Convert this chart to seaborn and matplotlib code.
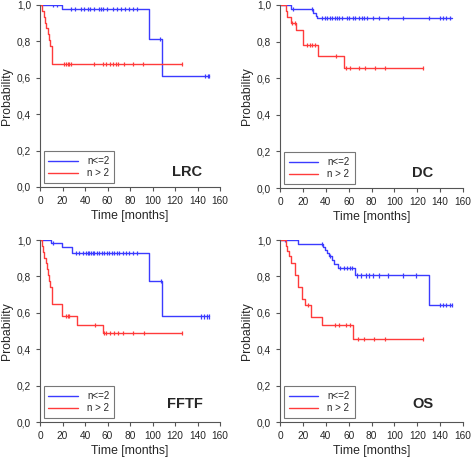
import numpy as np
import pandas as pd
import matplotlib
matplotlib.use("Agg")
import matplotlib.pyplot as plt
import seaborn as sns

sns.set_style("ticks")
plt.rcParams['font.family'] = ['Liberation Sans', 'DejaVu Sans']

groups = ["n<=2", "n > 2"]
colors = {"n<=2": "#3b3bff", "n > 2": "#ff3b3b"}
panels = ["LRC", "DC", "FFTF", "OS"]

# ---- LRC ----
lrc_lo_t = [19.6, 97.2, 108.7]
lrc_lo_s = [0.978, 0.812, 0.609]
lrc_lo_end = 150.5
lrc_lo_c = [11.9, 15.4, 27.6, 31.1, 36.4, 39.4, 42.4, 44.7, 48.3, 52.4, 53.9, 55.7,
            59.3, 64.6, 68.7, 71.7, 75.6, 79.4, 82.4, 85.9, 107.0, 147.0, 149.0, 150.5]
lrc_hi_t = [2.0, 3.5, 4.5, 5.5, 7.0, 8.0, 9.0, 11.0]
lrc_hi_s = [0.968, 0.935, 0.903, 0.871, 0.839, 0.806, 0.774, 0.677]
lrc_hi_end = 126.0
lrc_hi_c = [21.6, 22.8, 24.6, 26.1, 27.6, 48.3, 56.3, 58.7, 62.2, 65.2, 67.3, 69.6,
            74.7, 83.0, 91.9, 126.0]

# ---- DC ----
dc_lo_t = [9.4, 29.0, 31.3, 32.2]
dc_lo_s = [0.978, 0.956, 0.940, 0.927]
dc_lo_end = 150.6
dc_lo_c = [11.4, 27.8, 36.6, 39.5, 41.5, 43.9, 45.9, 48.0, 49.7, 51.8, 54.1, 58.5, 60.0,
           63.5, 65.8, 68.7, 71.7, 73.7, 76.0, 81.6, 86.9, 94.2, 107.3, 130.7, 139.5,
           142.5, 145.4, 148.3]
dc_hi_t = [5.0, 6.4, 9.4, 13.7, 20.2, 33.0, 55.6]
dc_hi_s = [0.968, 0.935, 0.903, 0.861, 0.783, 0.720, 0.656]
dc_hi_end = 125.0
dc_hi_c = [10.8, 13.2, 23.4, 26.0, 28.4, 30.7, 49.0, 57.5, 61.4, 69.3, 74.3, 83.0, 91.8, 125.0]

# ---- FFTF ----
fftf_lo_t = [9.5, 19.3, 28.0, 97.2, 108.7]
fftf_lo_s = [0.982, 0.963, 0.930, 0.776, 0.580]
fftf_lo_end = 150.0
fftf_lo_c = [11.3, 32.0, 35.0, 38.0, 41.0, 42.4, 43.9, 45.3, 46.8, 48.3, 50.4, 52.7, 54.8,
             57.2, 59.3, 61.6, 63.7, 65.8, 68.1, 70.5, 73.5, 76.4, 79.4, 82.4, 85.9,
             107.3, 143.0, 145.8, 148.7, 150.0]
fftf_hi_t = [2.0, 3.0, 3.9, 5.0, 5.9, 7.0, 7.9, 8.9, 10.4, 19.3, 33.2, 56.3]
fftf_hi_s = [0.968, 0.935, 0.903, 0.871, 0.839, 0.806, 0.774, 0.742, 0.646, 0.582, 0.534, 0.488]
fftf_hi_end = 126.0
fftf_hi_c = [23.0, 24.6, 26.0, 48.9, 57.2, 58.7, 62.2, 66.0, 69.0, 74.0, 83.0, 92.4, 126.0]

# ---- OS ----
os_lo_t = [15.8, 37.7, 39.5, 41.5, 43.0, 45.3, 47.4, 50.3, 65.5, 130.7]
os_lo_s = [0.978, 0.964, 0.946, 0.928, 0.910, 0.892, 0.870, 0.847, 0.805, 0.642]
os_lo_end = 150.0
os_lo_c = [4.1, 37.0, 43.9, 52.6, 56.2, 59.0, 61.0, 62.9, 67.0, 70.8, 75.2, 78.0, 81.6,
           86.3, 94.2, 107.3, 119.0, 139.5, 142.5, 145.4, 148.3, 150.0]
os_hi_t = [5.0, 6.0, 8.0, 9.9, 12.9, 16.1, 19.6, 21.9, 26.9, 36.6, 64.0]
os_hi_s = [0.968, 0.940, 0.910, 0.874, 0.806, 0.742, 0.677, 0.645, 0.577, 0.535, 0.456]
os_hi_end = 125.0
os_hi_c = [24.9, 48.3, 51.8, 57.6, 61.4, 67.9, 73.7, 82.5, 91.8, 125.0]

data = {
    "LRC": [(lrc_lo_t, lrc_lo_s, lrc_lo_end, lrc_lo_c), (lrc_hi_t, lrc_hi_s, lrc_hi_end, lrc_hi_c)],
    "DC": [(dc_lo_t, dc_lo_s, dc_lo_end, dc_lo_c), (dc_hi_t, dc_hi_s, dc_hi_end, dc_hi_c)],
    "FFTF": [(fftf_lo_t, fftf_lo_s, fftf_lo_end, fftf_lo_c), (fftf_hi_t, fftf_hi_s, fftf_hi_end, fftf_hi_c)],
    "OS": [(os_lo_t, os_lo_s, os_lo_end, os_lo_c), (os_hi_t, os_hi_s, os_hi_end, os_hi_c)],
}

fig = plt.figure(figsize=(4.72, 4.62), dpi=100)
axes_pos = {
    "LRC": [40/472, 1-187/462, 180/472, 182/462],
    "DC": [280/472, 1-188/462, 183/472, 183/462],
    "FFTF": [40/472, 1-422/462, 180/472, 182/462],
    "OS": [280/472, 1-422/462, 183/472, 182/462],
}
label_pos = {"LRC": (131, 0.08), "DC": (125, 0.08), "FFTF": (129, 0.10), "OS": (125, 0.10)}

def surv_at(times, survs, x):
    idx = np.searchsorted(times, x, side="right")
    vals = np.concatenate([[1.0], survs])
    return vals[idx]

for name in panels:
    ax = fig.add_axes(axes_pos[name])
    rows, crows = [], []
    for g, (t, s, end, c) in zip(groups, data[name]):
        tt = [0.0] + list(t) + [end]
        ss = [1.0] + list(s) + [s[-1]]
        for a, b in zip(tt, ss):
            rows.append({"Time": a, "S": b, "group": g})
        cy = surv_at(np.array(t), np.array(s), np.array(c))
        for a, b in zip(c, cy):
            crows.append({"Time": a, "S": b, "group": g})
    df = pd.DataFrame(rows)
    cdf = pd.DataFrame(crows)
    sns.lineplot(data=df, x="Time", y="S", hue="group", palette=colors, hue_order=groups,
                 drawstyle="steps-post", estimator=None, sort=False, lw=1.0, ax=ax)
    sns.scatterplot(data=cdf, x="Time", y="S", hue="group", palette=colors, hue_order=groups,
                    marker="|", s=9, linewidth=0.9, ax=ax, legend=False)
    ax.set_xlim(0, 160)
    ax.set_ylim(0, 1.0)
    ax.set_xticks(np.arange(0, 161, 20))
    yt = np.arange(0, 1.01, 0.2)
    ax.set_yticks(yt)
    ax.set_yticklabels([f"{v:.1f}".replace(".", ",") for v in yt])
    ax.tick_params(labelsize=7.3, length=3, width=0.8, color="#555555", pad=3.5)
    for sp in ["top", "right"]:
        ax.spines[sp].set_visible(False)
    for sp in ["left", "bottom"]:
        ax.spines[sp].set_color("#555555")
        ax.spines[sp].set_linewidth(0.8)
    ax.set_xlabel("Time [months]", fontsize=8.8, labelpad=3)
    ax.set_ylabel("Probability", fontsize=8.8, labelpad=3)
    ax.set_facecolor("white")
    leg = ax.legend(loc="lower left", bbox_to_anchor=(0.02, 0.02), borderaxespad=0,
                    fontsize=7, frameon=True, fancybox=False, handlelength=3.0,
                    handletextpad=1.0, borderpad=0.5, labelspacing=0.25)
    leg.get_frame().set_edgecolor("#555555")
    leg.get_frame().set_linewidth(0.8)
    lx, ly = label_pos[name]
    ax.text(lx, ly, name, fontsize=10.5, fontweight="bold", ha="center", va="center")

fig.savefig("out.png", dpi=100, facecolor="white")
